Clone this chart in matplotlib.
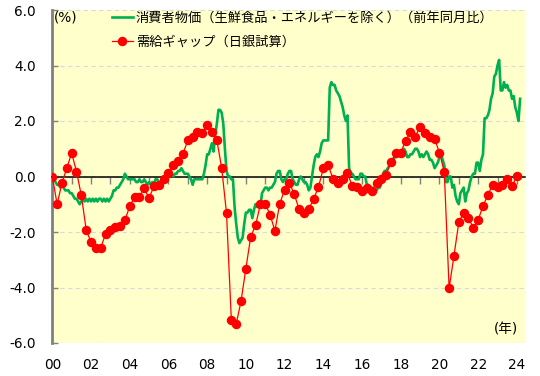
import matplotlib
matplotlib.use("Agg")
import matplotlib.pyplot as plt
from matplotlib.ticker import FuncFormatter
from matplotlib.lines import Line2D
import numpy as np

plt.rcParams['font.family'] = ['DejaVu Sans', 'Noto Sans CJK JP']
plt.rcParams['axes.unicode_minus'] = False

# 消費者物価 (前年同月比, %), monthly, first point = Dec 1999
cpi_1999 = [-0.1]
cpi_2000 = [-0.1, -0.2, -0.3, -0.3, -0.4, -0.3, -0.4, -0.5, -0.5, -0.5, -0.6, -0.6]
cpi_2001 = [-0.7, -0.8, -0.8, -0.9, -1.0, -0.9, -0.8, -0.9, -0.8, -0.9, -0.8, -0.9]
cpi_2002 = [-0.8, -0.9, -0.8, -0.9, -0.8, -0.8, -0.9, -0.8, -0.9, -0.8, -0.9, -0.8]
cpi_2003 = [-0.7, -0.5, -0.5, -0.4, -0.4, -0.3, -0.2, -0.1, 0.1, 0.0, -0.1, -0.1]
cpi_2004 = [-0.1, -0.1, -0.1, -0.2, -0.2, -0.1, -0.2, -0.2, -0.1, -0.2, -0.3, -0.2]
cpi_2005 = [-0.3, -0.2, -0.3, -0.1, -0.1, -0.2, -0.2, -0.1, -0.1, -0.1, 0.0, 0.1]
cpi_2006 = [0.0, 0.1, 0.0, 0.1, 0.1, 0.2, 0.2, 0.3, 0.2, 0.1, 0.1, 0.1]
cpi_2007 = [0.0, -0.1, -0.3, -0.1, -0.1, -0.1, -0.1, -0.1, -0.1, 0.1, 0.4, 0.8]
cpi_2008 = [0.8, 1.0, 1.2, 0.9, 1.5, 1.9, 2.4, 2.4, 2.3, 1.9, 1.0, 0.2]
cpi_2009 = [0.0, 0.0, -0.1, -0.1, -1.1, -1.7, -2.2, -2.4, -2.3, -2.2, -1.7, -1.3]
cpi_2010 = [-1.3, -1.2, -1.2, -1.5, -1.2, -1.0, -1.1, -1.0, -1.1, -0.6, -0.5, -0.4]
cpi_2011 = [-0.4, -0.5, -0.4, -0.4, -0.3, -0.2, 0.1, 0.2, 0.2, -0.1, -0.2, -0.1]
cpi_2012 = [-0.1, 0.1, 0.2, 0.2, -0.1, -0.2, -0.3, -0.3, -0.1, 0.0, -0.1, -0.2]
cpi_2013 = [-0.2, -0.3, -0.5, -0.4, 0.0, 0.4, 0.7, 0.8, 0.7, 0.9, 1.2, 1.3]
cpi_2014 = [1.3, 1.3, 1.3, 3.2, 3.4, 3.3, 3.3, 3.1, 3.0, 2.9, 2.7, 2.5]
cpi_2015 = [2.2, 2.0, 2.2, 0.3, 0.1, 0.1, 0.0, -0.1, -0.1, -0.1, 0.1, 0.1]
cpi_2016 = [0.0, 0.0, -0.3, -0.3, -0.4, -0.4, -0.5, -0.5, -0.5, -0.4, -0.4, -0.2]
cpi_2017 = [0.1, 0.2, 0.2, 0.3, 0.4, 0.4, 0.5, 0.7, 0.7, 0.8, 0.9, 0.9]
cpi_2018 = [0.9, 1.0, 0.9, 0.7, 0.7, 0.8, 0.8, 0.9, 1.0, 1.0, 0.9, 0.7]
cpi_2019 = [0.8, 0.7, 0.8, 0.9, 0.8, 0.6, 0.6, 0.5, 0.3, 0.4, 0.5, 0.7]
cpi_2020 = [0.8, 0.6, 0.4, -0.2, -0.2, 0.0, 0.0, -0.4, -0.3, -0.7, -0.9, -1.0]
cpi_2021 = [-0.6, -0.5, -0.4, -0.9, -0.6, -0.5, -0.2, 0.0, 0.1, 0.1, 0.5, 0.5]
cpi_2022 = [0.2, 0.6, 0.8, 2.1, 2.1, 2.2, 2.4, 2.8, 3.0, 3.6, 3.7, 4.0]
cpi_2023 = [4.2, 3.1, 3.1, 3.4, 3.2, 3.3, 3.1, 3.1, 2.8, 2.9, 2.5, 2.3]
cpi_2024 = [2.0, 2.8]

# 需給ギャップ (日銀試算, %), quarterly
gap_2000_2002 = [0.0, -1.0, -0.23, 0.30, 0.85, 0.18, -0.68, -1.91, -2.37, -2.58, -2.58, -2.07]
gap_2003_2005 = [-1.93, -1.83, -1.77, -1.57, -1.08, -0.73, -0.73, -0.43, -0.78, -0.35, -0.29, -0.08]
gap_2006_2008 = [0.14, 0.40, 0.55, 0.82, 1.30, 1.43, 1.62, 1.55, 1.87, 1.61, 1.31, 0.31]
gap_2009_2011 = [-1.32, -5.18, -5.32, -4.49, -3.32, -2.17, -1.76, -1.00, -0.99, -1.37, -1.96, -0.98]
gap_2012_2014 = [-0.48, -0.23, -0.64, -1.18, -1.32, -1.18, -0.81, -0.38, 0.29, 0.42, -0.09, -0.24]
gap_2015_2017 = [-0.09, 0.12, -0.35, -0.39, -0.52, -0.43, -0.52, -0.23, -0.09, 0.07, 0.54, 0.83]
gap_2018_2020 = [0.86, 1.29, 1.60, 1.43, 1.80, 1.55, 1.43, 1.36, 0.86, 0.17, -4.03, -2.86]
gap_2021_2023 = [-1.65, -1.31, -1.51, -1.84, -1.57, -1.06, -0.67, -0.29, -0.37, -0.31, -0.10, -0.35]
gap_2024 = [0.02]

year_ticks = list(range(2000, 2025, 2))
year_labels = ['00', '02', '04', '06', '08', '10', '12', '14', '16', '18', '20', '22', '24']
y_ticks = [-6, -4, -2, 0, 2, 4, 6]

label_cpi = '消費者物価（生鮮食品・エネルギーを除く）（前年同月比）'
label_gap = '需給ギャップ（日銀試算）'

cpi = (cpi_1999 + cpi_2000 + cpi_2001 + cpi_2002 + cpi_2003 + cpi_2004 + cpi_2005 +
       cpi_2006 + cpi_2007 + cpi_2008 + cpi_2009 + cpi_2010 + cpi_2011 + cpi_2012 +
       cpi_2013 + cpi_2014 + cpi_2015 + cpi_2016 + cpi_2017 + cpi_2018 + cpi_2019 +
       cpi_2020 + cpi_2021 + cpi_2022 + cpi_2023 + cpi_2024)
gap = (gap_2000_2002 + gap_2003_2005 + gap_2006_2008 + gap_2009_2011 + gap_2012_2014 +
       gap_2015_2017 + gap_2018_2020 + gap_2021_2023 + gap_2024)

cpi_x = 2000 + np.arange(len(cpi)) / 12.0
gap_x = 2000 + np.arange(len(gap)) * 0.25

GREEN = '#00B050'
RED = '#FF0000'
FS = 9.8
LFS = 9.5

fig = plt.figure(figsize=(5.4, 3.76), dpi=100)
ax = fig.add_axes([52.3 / 540, 33 / 376, (525 - 52.3) / 540, (343 - 10) / 376])
ax.set_facecolor('#FFFFCC')

ax.plot(cpi_x, cpi, color=GREEN, lw=1.9, zorder=3, solid_joinstyle='round')
ax.plot(gap_x, gap, color=RED, lw=0.9, marker='o', ms=5.8, mec=RED, mfc=RED, zorder=4)

ax.set_xlim(2000, 2024.42)
ax.set_ylim(-6, 6)

ax.set_yticks(y_ticks)
ax.yaxis.set_major_formatter(FuncFormatter(lambda v, p: f'{v:.1f}'))
ax.yaxis.grid(True, ls=(0, (4, 3)), color='#D9D9D9', lw=0.8)
ax.set_axisbelow(True)
ax.tick_params(axis='y', length=4, width=1, color='#808080', direction='in', pad=12, labelsize=FS)

for s in ('top', 'right'):
    ax.spines[s].set_visible(False)
ax.spines['left'].set_color('#808080')
ax.spines['left'].set_linewidth(2)
ax.spines['bottom'].set_position(('data', 0))
ax.spines['bottom'].set_color('black')
ax.spines['bottom'].set_linewidth(1.1)
ax.spines['bottom'].set_zorder(2.5)

ax.set_xticks(np.arange(2000, 2025))
ax.tick_params(axis='x', length=5, width=1, color='#808080', direction='out', labelbottom=False)

sec = ax.secondary_xaxis('bottom')
sec.set_xticks(year_ticks, year_labels)
sec.spines['bottom'].set_visible(False)
sec.tick_params(length=0, pad=11, labelsize=FS)

ax.text(2000.1, 5.73, '(%)', fontsize=FS, va='center', ha='left')
ax.text(2024.05, -5.5, '(年)', fontsize=FS, va='center', ha='right')

handles = [Line2D([], [], color=GREEN, lw=1.9),
           Line2D([], [], color=RED, lw=0.9, marker='o', ms=5.8)]
ax.legend(handles, [label_cpi, label_gap], loc='upper left', bbox_to_anchor=(0.124, 1.0),
          frameon=False, fontsize=LFS, handlelength=1.55, handletextpad=0.25,
          labelspacing=0.85, borderaxespad=0, borderpad=0.1)

fig.savefig('out.png', dpi=100, facecolor='white')
